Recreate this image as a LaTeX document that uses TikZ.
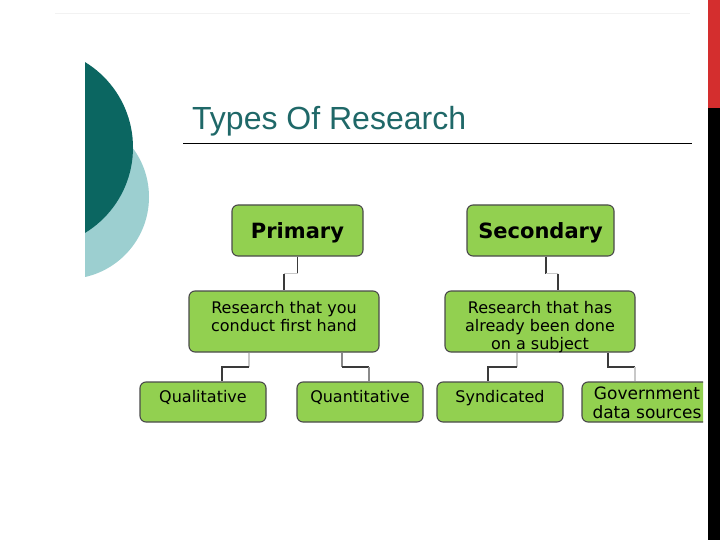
\documentclass[tikz,border=0pt]{standalone}
\usepackage{fontspec}
\setmainfont{DejaVu Sans}
\newfontfamily\titlefont{Liberation Sans}
\usetikzlibrary{calc}
\definecolor{boxgreen}{HTML}{92D050}
\definecolor{boxline}{HTML}{4A4A4A}
\definecolor{darkteal}{HTML}{0B6661}
\definecolor{lightteal}{HTML}{9CCFD0}
\definecolor{titleteal}{RGB}{31,104,104}
\definecolor{barred}{HTML}{D42E2E}
\definecolor{conndark}{HTML}{3A3A3A}
\definecolor{connmid}{HTML}{8A8A8A}
\definecolor{connlight}{HTML}{C8C8C8}
\definecolor{faint}{HTML}{F2F2F2}
\tikzset{
  gbox/.style={draw=boxline, fill=boxgreen, line width=1.1pt, rounded corners=6pt, inner sep=0pt},
  boxtext/.style={inner sep=0pt, align=center, font=\fontsize{16}{18}\selectfont, anchor=base},
  headtext/.style={inner sep=0pt, align=center, font=\fontsize{21}{25}\selectfont\bfseries, anchor=base},
  cdark/.style={draw=conndark, line width=1.4pt},
  cmid/.style={draw=connmid, line width=1.4pt},
  clight/.style={draw=connlight, line width=1.4pt},
}
\begin{document}
\begin{tikzpicture}[x=1pt, y=-1pt]
\useasboundingbox (0,0) rectangle (720,540);
\fill[white] (0,0) rectangle (720,540);
% faint top rule
\draw[faint, line width=1pt] (55,14) -- (690,14);
% decorative teal shapes
\begin{scope}
  \clip (85,0) rectangle (300,400);
  \fill[lightteal] (67,197) circle (82);
  \fill[darkteal] (33,147.5) circle (100);
\end{scope}
% title
\node[inner sep=0pt, anchor=base west, text=titleteal, font=\titlefont\fontsize{32}{36}\selectfont] (title) at (192,130) {Types Of Research};
\draw[black, line width=1pt] (183,144) -- (692,144);
% boxes
\node[gbox, minimum width=131, minimum height=51] (prim) at (297.5,230.5) {};
\node[gbox, minimum width=190, minimum height=61] (resA) at (284,321.5) {};
\node[gbox, minimum width=126, minimum height=40] (qual) at (203,402) {};
\node[gbox, minimum width=126, minimum height=40] (quant) at (360,402) {};
\node[gbox, minimum width=147, minimum height=51] (sec) at (540.5,230.5) {};
\node[gbox, minimum width=190, minimum height=61] (resB) at (540,321.5) {};
\node[gbox, minimum width=126, minimum height=40] (synd) at (500,402) {};
\begin{scope}
  \clip (0,0) rectangle (703,540);
  \node[gbox, minimum width=140, minimum height=40] (gov) at (652,402) {};
  \node[boxtext, font=\fontsize{17}{18.5}\selectfont] (govt) at (647,418) {Government\\data sources};
\end{scope}
% texts
\node[headtext] (primt) at (297.5,238) {Primary};
\node[headtext] (sect) at (540.5,238) {Secondary};
\node[boxtext] (resAt) at (284,331) {Research that you\\conduct first hand};
\node[boxtext] (resBt) at (540,349) {Research that has\\already been done\\on a subject};
\node[boxtext] (qualt) at (203,402) {Qualitative};
\node[boxtext] (quantt) at (360,402) {Quantitative};
\node[boxtext] (syndt) at (500,402) {Syndicated};
% connectors Primary side
\coordinate (m1) at ($(prim.south)!0.5!(resA.north)$);
\draw[cdark] (prim.south) -- (prim.south |- m1);
\draw[clight] (prim.south |- m1) -- (resA.north |- m1);
\draw[cdark] (resA.north |- m1) -- (resA.north);
\coordinate (m2) at ($(resA.south)!0.5!(qual.north)$);
\coordinate (a1) at ([xshift=-35]resA.south);
\coordinate (q1) at ([xshift=19]qual.north);
\draw[clight] (a1) -- (a1 |- m2);
\draw[cdark] (a1 |- m2) -- (q1 |- m2) -- (q1);
\coordinate (a2) at ([xshift=58]resA.south);
\coordinate (q2) at ([xshift=9]quant.north);
\draw[cmid] (a2) -- (a2 |- m2);
\draw[cdark] (a2 |- m2) -- (q2 |- m2);
\draw[cmid] (q2 |- m2) -- (q2);
% connectors Secondary side
\coordinate (s0) at ([xshift=5.5]sec.south);
\coordinate (b0) at ([xshift=18]resB.north);
\draw[cdark] (s0) -- (s0 |- m1);
\draw[clight] (s0 |- m1) -- (b0 |- m1);
\draw[cdark] (b0 |- m1) -- (b0);
\coordinate (b1) at ([xshift=-23]resB.south);
\coordinate (y1) at ([xshift=-12]synd.north);
\draw[clight] (b1) -- (b1 |- m2);
\draw[cdark] (b1 |- m2) -- (y1 |- m2) -- (y1);
\coordinate (b2) at ([xshift=68]resB.south);
\coordinate (g1) at ([xshift=-17]gov.north);
\draw[cdark] (b2) -- (b2 |- m2) -- (g1 |- m2);
\draw[clight] (g1 |- m2) -- (g1);
% right edge bars
\fill[barred] (708,0) rectangle (720,108);
\fill[black] (708,108) rectangle (720,540);
\end{tikzpicture}
\end{document}
